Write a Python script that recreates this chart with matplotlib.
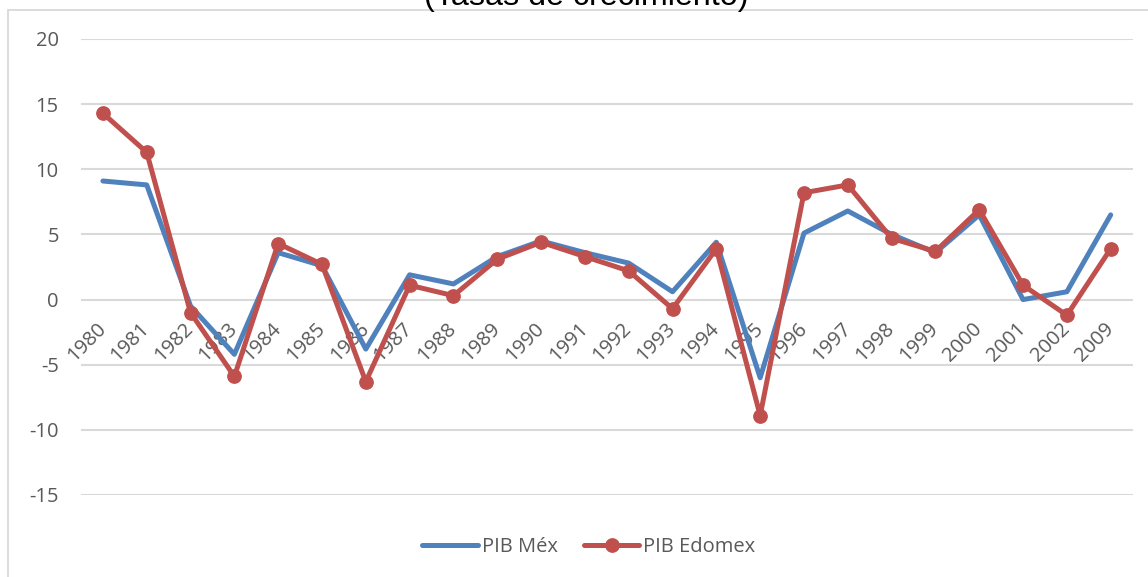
import matplotlib
matplotlib.use("Agg")
import matplotlib.pyplot as plt
from matplotlib.patches import Rectangle
from matplotlib.lines import Line2D

years = ["1980", "1981", "1982", "1983", "1984", "1985", "1986", "1987",
         "1988", "1989", "1990", "1991", "1992", "1993", "1994", "1995",
         "1996", "1997", "1998", "1999", "2000", "2001", "2002", "2009"]

pib_mex = [9.1, 8.8, -0.5, -4.2, 3.6, 2.6, -3.8, 1.9, 1.2, 3.3, 4.5, 3.6,
           2.8, 0.6, 4.4, -6.0, 5.1, 6.8, 5.0, 3.6, 6.5, 0.0, 0.6, 6.5]

pib_edomex = [14.3, 11.3, -1.0, -5.9, 4.3, 2.7, -6.3, 1.1, 0.3, 3.1, 4.4, 3.3,
              2.2, -0.7, 3.9, -8.9, 8.2, 8.8, 4.7, 3.7, 6.9, 1.1, -1.2, 3.9]

y_ticks = [-15, -10, -5, 0, 5, 10, 15, 20]

BLUE = "#4F81BD"
RED = "#C0504D"
GRID = "#D9D9D9"
TEXT = "#595959"

W, H = 1148, 577
plt.rcParams["font.family"] = ["Open Sans", "DejaVu Sans"]
fig = plt.figure(figsize=(W / 100, H / 100), dpi=100)

# chart frame (continues past the right and bottom edges)
fig.patches.append(Rectangle((8 / W, -0.05), 1.2, 1.05 - 9.5 / H,
                             transform=fig.transFigure, fill=False,
                             edgecolor=GRID, linewidth=1.3))

left, right, top, bottom = 81 / W, 1132.6 / W, 1 - 39 / H, 1 - 495 / H
ax = fig.add_axes([left, bottom, right - left, top - bottom])
ax.patch.set_alpha(0)

x = list(range(len(years)))
LW = 3.6
ax.plot(x, pib_mex, color=BLUE, linewidth=LW, solid_capstyle="round",
        solid_joinstyle="round", zorder=3, label="PIB Méx")
ax.plot(x, pib_edomex, color=RED, linewidth=LW, marker="o", markersize=9.6,
        solid_capstyle="round", solid_joinstyle="round", zorder=4,
        label="PIB Edomex")

ax.set_xlim(-0.5, len(years) - 0.5)
ax.set_ylim(-15, 20)
ax.set_yticks(y_ticks)
ax.set_yticklabels([str(v) for v in y_ticks])
ax.yaxis.grid(True, color=GRID, linewidth=1.5)
ax.set_axisbelow(True)

for s in ax.spines.values():
    s.set_visible(False)
ax.spines["bottom"].set_position(("data", 0))

ax.set_xticks(x)
ax.set_xticklabels(years, rotation=45, ha="right", va="center",
                   rotation_mode="anchor")
ax.tick_params(axis="x", length=0, pad=19, labelsize=14.5, colors=TEXT)
ax.tick_params(axis="y", length=0, pad=16, labelsize=14.5, colors=TEXT)

fig.text(586.5 / W, 1 - 5 / H, "(Tasas de crecimiento)", ha="center",
         va="baseline", fontsize=23.2, color="#000000",
         family=["Liberation Sans", "DejaVu Sans"])

handles = [Line2D([], [], color=BLUE, linewidth=LW, solid_capstyle="round"),
           Line2D([], [], color=RED, linewidth=LW, marker="o", markersize=9.6,
                  solid_capstyle="round")]
fig.legend(handles, ["PIB Méx", "PIB Edomex"], loc="center",
           bbox_to_anchor=(589 / W, 1 - 547 / H), ncol=2, frameon=False,
           fontsize=14.5, labelcolor=TEXT, handlelength=2.75,
           handletextpad=0.2, columnspacing=1.3)

fig.savefig("out.png", dpi=100)
